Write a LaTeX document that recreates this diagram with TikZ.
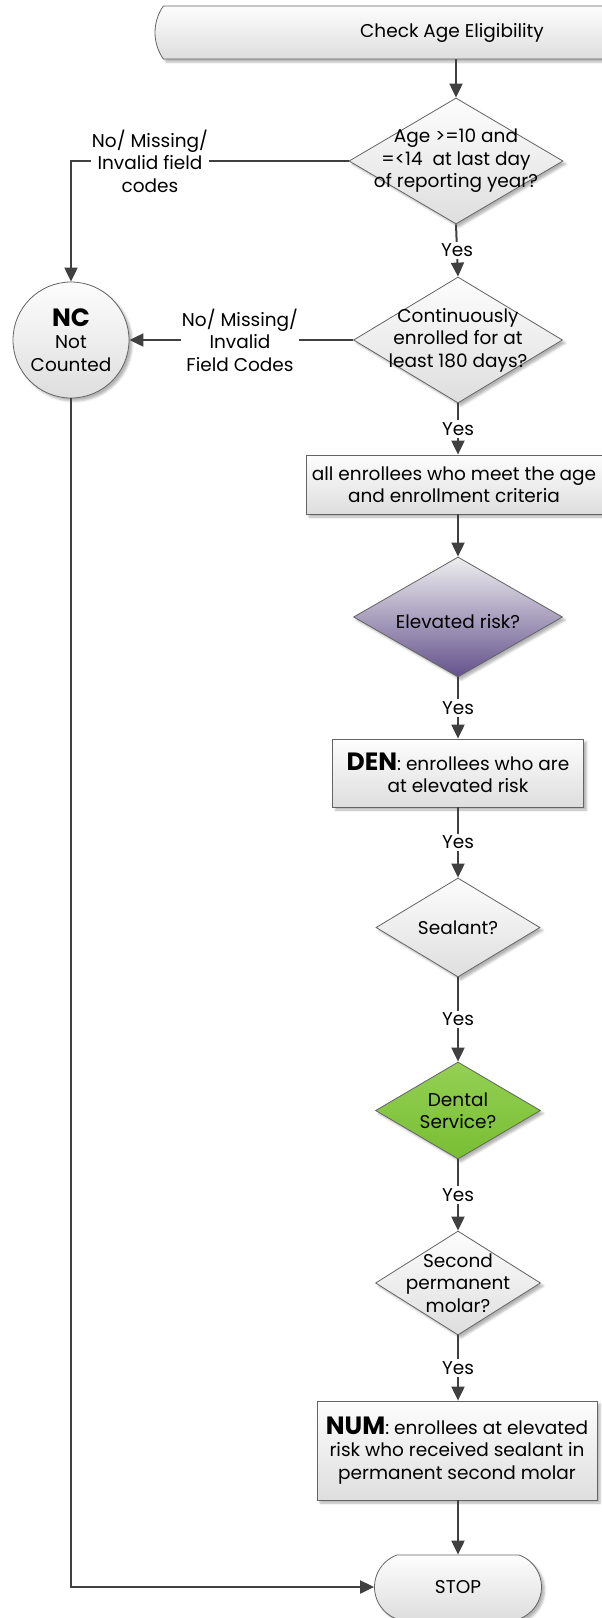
\documentclass[tikz,border=0pt]{standalone}
\usepackage{fontspec}
\setmainfont{Poppins}
\usetikzlibrary{shapes.geometric,shapes.misc,arrows.meta,shadows.blur}

\definecolor{linegray}{RGB}{64,64,64}
\definecolor{bordergray}{RGB}{100,100,100}
\definecolor{boxtop}{RGB}{253,253,253}
\definecolor{boxbottom}{RGB}{222,222,222}
\definecolor{risktop}{RGB}{238,238,240}
\definecolor{riskpurple}{RGB}{100,82,140}
\definecolor{servicetop}{RGB}{148,208,84}
\definecolor{servicebottom}{RGB}{120,190,50}

\newcommand{\bigbold}[1]{{\fontsize{25}{27}\selectfont\bfseries #1}}

\tikzset{
  every node/.style={font=\fontsize{18.5}{22.5}\selectfont},
  boxfill/.style={top color=boxtop, bottom color=boxbottom, draw=bordergray, line width=0.8pt,
    blur shadow={shadow xshift=3pt, shadow yshift=-3pt, shadow opacity=30, shadow blur steps=4}},
  process/.style={boxfill, rectangle, align=center, inner sep=0pt},
  decision/.style={boxfill, diamond, inner sep=0pt},
  dtext/.style={align=center, inner sep=0pt},
  terminal/.style={boxfill, rounded rectangle, inner sep=0pt},
  yes/.style={fill=white, inner sep=2pt},
  nolabel/.style={fill=white, align=center, inner sep=1pt},
  arr/.style={draw=linegray, line width=2pt, -{Triangle[length=14pt,width=13pt]}},
}

\begin{document}
\begin{tikzpicture}[x=1pt,y=-1pt]
  \useasboundingbox (0,0) rectangle (602,1618);

  % main column
  \node[terminal, rounded rectangle arc length=70, minimum width=594pt, minimum height=53pt] (check) at (452,32.5) {Check Age Eligibility};
  \node[decision, minimum width=214pt, minimum height=126pt] (d1) at (456,161) {};
  \node[dtext] (d1t) at (d1) {Age >=10 and\\=<14\ \ at last day\\of reporting year?};
  \node[decision, minimum width=209pt, minimum height=126pt] (d2) at (458,340) {};
  \node[dtext] (d2t) at (d2) {Continuously\\enrolled for at\\least 180 days?};
  \node[process, minimum width=296pt, minimum height=59pt] (crit) at (454,484.5) {all enrollees who meet the age\\and enrollment criteria};
  \node[decision, top color=risktop, bottom color=riskpurple, minimum width=209pt, minimum height=120pt] (d3) at (458,617) {};
  \node[dtext] (d3t) at (458,622) {Elevated risk?};
  \node[process, minimum width=251pt, minimum height=68pt] (den) at (458,773) {\bigbold{DEN}: enrollees who are\\at elevated risk};
  \node[decision, minimum width=164pt, minimum height=99pt] (d4) at (458,927.5) {};
  \node[dtext] (d4t) at (d4) {Sealant?};
  \node[decision, top color=servicetop, bottom color=servicebottom, minimum width=165pt, minimum height=97pt] (d5) at (458,1110.5) {};
  \node[dtext] (d5t) at (d5) {Dental\\Service?};
  \node[decision, minimum width=165pt, minimum height=104pt] (d6) at (458,1283) {};
  \node[dtext] (d6t) at (d6) {Second\\permanent\\molar?};
  \node[process, minimum width=280pt, minimum height=99pt] (num) at (457,1450.5) {\bigbold{NUM}: enrollees at elevated\\risk who received sealant in\\permanent second molar};
  \node[terminal, rounded rectangle arc length=140, minimum width=167pt, minimum height=64pt] (stop) at (458,1587) {STOP};

  % not counted
  \node[boxfill, circle, minimum size=116pt, inner sep=0pt, align=center] (nc) at (71,340) {\bigbold{NC}\\Not\\Counted};

  \draw[arr] (check.south -| d1.north) -- (d1.north);
  \draw[arr] (d1.south) -- node[yes] (yes1) {Yes} (d2.north);
  \draw[arr] (d2.south) -- node[yes] (yes2) {Yes} (d2.south |- crit.north);
  \draw[arr] (crit.south -| d3.north) -- (d3.north);
  \draw[arr] (d3.south) -- node[yes] (yes3) {Yes} (den.north);
  \draw[arr] (den.south) -- node[yes] (yes4) {Yes} (d4.north);
  \draw[arr] (d4.south) -- node[yes] (yes5) {Yes} (d5.north);
  \draw[arr] (d5.south) -- node[yes] (yes6) {Yes} (d6.north);
  \draw[arr] (d6.south) -- node[yes] (yes7) {Yes} (d6.south |- num.north);
  \draw[arr] (num.south -| stop.north) -- (stop.north);

  \draw[arr] (d1.west) -| (nc.north);
  \node[nolabel] (lab1) at (150,161) {No/ Missing/\\Invalid field\\codes};
  \draw[arr] (d2.west) -- (nc.east);
  \node[nolabel] (lab2) at (240,340) {No/ Missing/\\Invalid\\Field Codes};
  \draw[arr] (nc.south) |- (stop.west);
\end{tikzpicture}
\end{document}
